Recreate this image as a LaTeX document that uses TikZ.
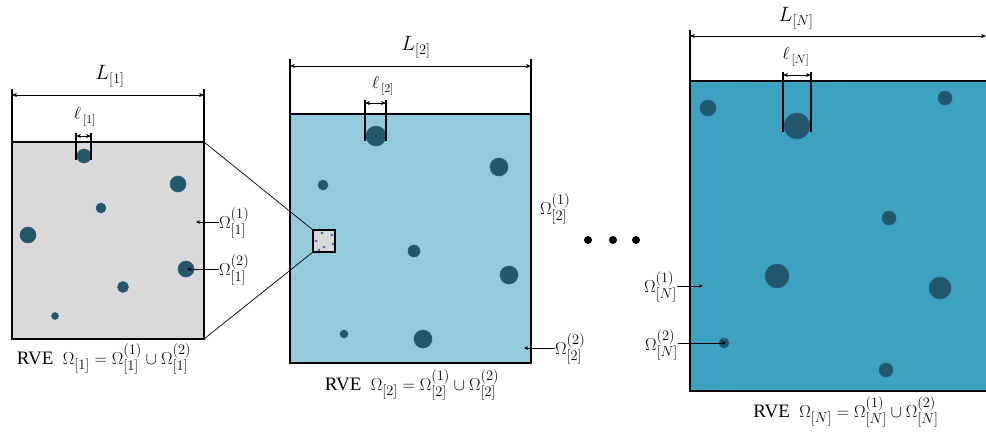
\documentclass[tikz,border=0pt]{standalone}
\usepackage{fontspec}
\setmainfont{Liberation Serif}
\usetikzlibrary{arrows.meta}
\definecolor{gfill}{HTML}{D9D9D9}
\definecolor{bfill}{HTML}{93CBDD}
\definecolor{nfill}{HTML}{3DA2C0}
\definecolor{incfill}{HTML}{22586A}
\definecolor{incdraw}{HTML}{2F5E88}
\definecolor{dotc}{HTML}{3A5E9A}
\tikzset{
  box/.style={draw=black, line width=1.3pt, inner sep=0pt, outer sep=0pt},
  incl/.style={circle, fill=incfill, draw=incdraw, line width=0.6pt, inner sep=0pt, outer sep=0pt},
  sdot/.style={circle, fill=dotc, inner sep=0pt, minimum size=2.8pt},
  dimline/.style={{Stealth[length=5pt,width=4pt]}-{Stealth[length=5pt,width=4pt]}, line width=0.8pt},
  extline/.style={line width=1.3pt},
  lab/.style={font=\fontsize{19}{21}\selectfont, inner sep=0pt},
  biglab/.style={font=\fontsize{20}{22}\selectfont, inner sep=0pt},
  elllab/.style={font=\fontsize{18}{20}\selectfont, inner sep=0pt},
  caption/.style={font=\fontsize{19}{21}\selectfont, inner sep=0pt},
  ptr/.style={-{Stealth[length=4pt,width=3.5pt]}, line width=0.8pt},
  bigdot/.style={circle, fill=black, inner sep=0pt, minimum size=8pt},
}
\begin{document}
\begin{tikzpicture}[x=1pt,y=-1pt]
\useasboundingbox (0,0) rectangle (986,434);

% ---------- RVE 1 ----------
\node[box, fill=gfill, minimum width=192pt, minimum height=197pt] (r1) at (108,240.5) {};
\node[incl, minimum size=14pt] (c11) at (84,156) {};
\node[incl, minimum size=16pt] (c12) at (178,184) {};
\node[incl, minimum size=10pt] (c13) at (101,208) {};
\node[incl, minimum size=16pt] (c14) at (28,235) {};
\node[incl, minimum size=16pt] (c15) at (186,269) {};
\node[incl, minimum size=11pt] (c16) at (123,287) {};
\node[incl, minimum size=7pt] (c17) at (55,316) {};
% L dimension
\coordinate (e1a) at (12,89); \coordinate (e1b) at (204,89);
\draw[extline] (e1a) -- (r1.north west);
\draw[extline] (e1b) -- (r1.north east);
\coordinate (d1a) at (12,95); \coordinate (d1b) at (204,95);
\draw[dimline] (d1a) -- (d1b);
\node[biglab] (L1) at (110,76) {$L_{[1]}$};
% ell dimension
\coordinate (l1a) at (76,133); \coordinate (l1b) at (76,160);
\coordinate (l1c) at (91,133); \coordinate (l1d) at (91,160);
\draw[extline] (l1a) -- (l1b);
\draw[extline] (l1c) -- (l1d);
\coordinate (l1e) at (76,136); \coordinate (l1f) at (91,136);
\draw[dimline] (l1e) -- (l1f);
\node[elllab] (ell1) at (85,117) {$\ell_{\,[1]}$};
% labels
\node[lab, anchor=west] (o11) at (219,223) {$\Omega^{(1)}_{[1]}$};
\coordinate (p11) at (196,222);
\draw[ptr] (o11.west |- p11) -- (p11);
\node[lab, anchor=west] (o12) at (219,270) {$\Omega^{(2)}_{[1]}$};
\coordinate (p12) at (187,269);
\draw[ptr] (o12.west |- p12) -- (p12);
\node[caption] (cap1) at (104,359) {RVE\ \ $\Omega_{[1]}=\Omega^{(1)}_{[1]}\cup\Omega^{(2)}_{[1]}$};

% ---------- RVE 2 ----------
\node[box, fill=bfill, minimum width=241pt, minimum height=249pt] (r2) at (410.5,238.5) {};
\node[incl, minimum size=20pt] (c21) at (376,136) {};
\node[incl, minimum size=18pt] (c22) at (499,167) {};
\node[incl, minimum size=10pt] (c23) at (323,185) {};
\node[incl, minimum size=12pt] (c24) at (414,251) {};
\node[incl, minimum size=18pt] (c25) at (509,275) {};
\node[incl, minimum size=8pt] (c26) at (344,334) {};
\node[incl, minimum size=18pt] (c27) at (423,339) {};
% zoom window
\node[box, fill=gfill, line width=1.1pt, minimum width=22pt, minimum height=22pt] (sq) at (324,241) {};
\node[sdot] (s1) at (322,233) {};
\node[sdot] (s2) at (332,235) {};
\node[sdot] (s3) at (316,241) {};
\node[sdot] (s4) at (324,247) {};
\node[sdot] (s5) at (333,244) {};
\node[sdot] (s6) at (319,250) {};
\draw[line width=0.7pt] (r1.north east) -- (sq.north west);
\draw[line width=0.7pt] (r1.south east) -- (sq.south west);
% L dimension
\coordinate (e2a) at (290,59); \coordinate (e2b) at (531,59);
\draw[extline] (e2a) -- (r2.north west);
\draw[extline] (e2b) -- (r2.north east);
\coordinate (d2a) at (290,66); \coordinate (d2b) at (531,66);
\draw[dimline] (d2a) -- (d2b);
\node[biglab] (L2) at (416,47) {$L_{[2]}$};
% ell dimension
\coordinate (l2a) at (365,100); \coordinate (l2b) at (365,141);
\coordinate (l2c) at (386,100); \coordinate (l2d) at (386,141);
\draw[extline] (l2a) -- (l2b);
\draw[extline] (l2c) -- (l2d);
\coordinate (l2e) at (365,103); \coordinate (l2f) at (386,103);
\draw[dimline] (l2e) -- (l2f);
\node[elllab] (ell2) at (383,86) {$\ell_{\,[2]}$};
% labels
\node[lab, anchor=west] (o21) at (540,209) {$\Omega^{(1)}_{[2]}$};
\node[lab, anchor=west] (o22) at (555,349) {$\Omega^{(2)}_{[2]}$};
\coordinate (p22) at (524,348);
\draw[ptr] (o22.west |- p22) -- (p22);
\node[caption] (cap2) at (412,385) {RVE\ \ $\Omega_{[2]}=\Omega^{(1)}_{[2]}\cup\Omega^{(2)}_{[2]}$};

% ---------- dots ----------
\node[bigdot] (dt1) at (588,240) {};
\node[bigdot] (dt2) at (613,240) {};
\node[bigdot] (dt3) at (636,240) {};

% ---------- RVE N ----------
\node[box, fill=nfill, minimum width=300pt, minimum height=310pt] (r3) at (840,236) {};
\node[incl, minimum size=26pt] (c31) at (797,126) {};
\node[incl, minimum size=16pt] (c32) at (708,108) {};
\node[incl, minimum size=14pt] (c33) at (945,98) {};
\node[incl, minimum size=14pt] (c34) at (889,218) {};
\node[incl, minimum size=24pt] (c35) at (777,276) {};
\node[incl, minimum size=22pt] (c36) at (940,288) {};
\node[incl, minimum size=10pt] (c37) at (724,343) {};
\node[incl, minimum size=14pt] (c38) at (886,370) {};
% L dimension
\coordinate (e3a) at (690,30); \coordinate (e3b) at (986,30);
\draw[extline] (e3a) -- (r3.north west);
\coordinate (d3a) at (690,36); \coordinate (d3b) at (986,36);
\draw[dimline] (d3a) -- (d3b);
\node[biglab] (L3) at (796,18) {$L_{[N]}$};
% ell dimension
\coordinate (l3a) at (783,72); \coordinate (l3b) at (783,132);
\coordinate (l3c) at (811,72); \coordinate (l3d) at (811,132);
\draw[extline] (l3a) -- (l3b);
\draw[extline] (l3c) -- (l3d);
\coordinate (l3e) at (783,75); \coordinate (l3f) at (811,75);
\draw[dimline] (l3e) -- (l3f);
\node[elllab] (ell3) at (796,57) {$\ell_{\,[N]}$};
% labels
\node[lab, anchor=east] (o31) at (677,287) {$\Omega^{(1)}_{[N]}$};
\coordinate (p31) at (703,286);
\draw[ptr] (o31.east |- p31) -- (p31);
\node[lab, anchor=east] (o32) at (678,345) {$\Omega^{(2)}_{[N]}$};
\coordinate (p32) at (726,343);
\draw[ptr] (o32.east |- p32) -- (p32);
\node[caption] (cap3) at (846,412) {RVE\ \ $\Omega_{[N]}=\Omega^{(1)}_{[N]}\cup\Omega^{(2)}_{[N]}$};
\end{tikzpicture}
\end{document}
